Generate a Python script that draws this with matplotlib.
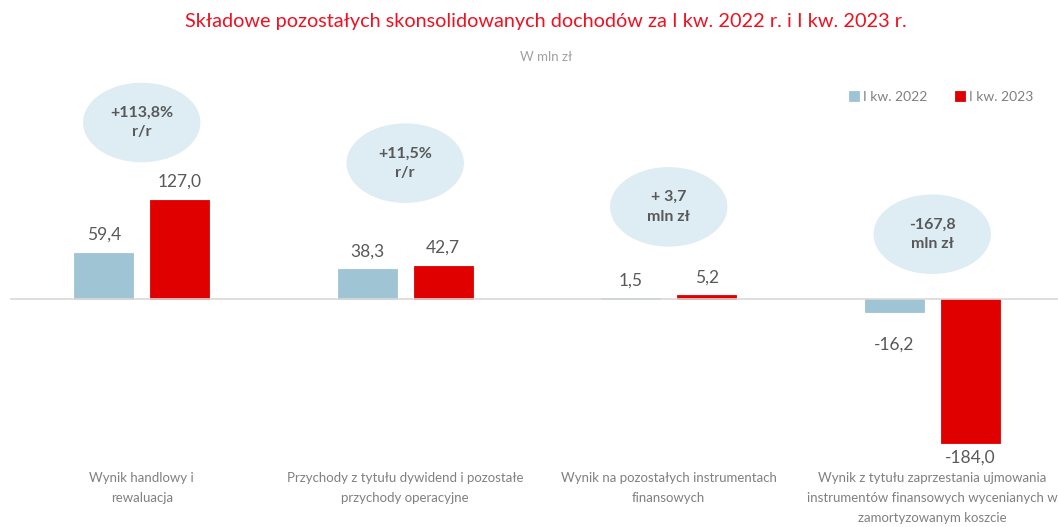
import numpy as np
import matplotlib.pyplot as plt
from matplotlib.patches import Ellipse

plt.rcParams['font.family'] = ['Lato', 'DejaVu Sans']

categories = ['Wynik handlowy i\nrewaluacja',
              'Przychody z tytułu dywidend i pozostałe\nprzychody operacyjne',
              'Wynik na pozostałych instrumentach\nfinansowych',
              'Wynik z tytułu zaprzestania ujmowania\ninstrumentów finansowych wycenianych w\nzamortyzowanym koszcie']
q1_2022 = [59.4, 38.3, 1.5, -16.2]
q1_2023 = [127.0, 42.7, 5.2, -184.0]
series_names = ['I kw. 2022', 'I kw. 2023']
changes = ['+113,8%\nr/r', '+11,5%\nr/r', '+ 3,7\nmln zł', '-167,8\nmln zł']
# bubble heights (data units)
bubble_y = [226, 174, 118, 83]

blue = '#9fc5d5'
red = '#e00000'
grey = '#595959'

fig = plt.figure(figsize=(10.58, 5.27), dpi=100)
W, H = 1058, 527
ax = fig.add_axes([10 / W, (H - 460) / H, 1054 / W, 400 / H])

x = np.arange(len(categories))
bw = 0.224
off = 0.144
b1 = ax.bar(x - off, q1_2022, bw, color=blue, edgecolor=blue, lw=0.6,
            label=series_names[0], zorder=2)
b2 = ax.bar(x + off, q1_2023, bw, color=red, edgecolor=red, lw=0.6,
            label=series_names[1], zorder=2)

for bars, vals in ((b1, q1_2022), (b2, q1_2023)):
    for b, v in zip(bars, vals):
        txt = ('%.1f' % v).replace('.', ',')
        cx = b.get_x() + b.get_width() / 2
        if v >= 0:
            ax.annotate(txt, (cx, v), xytext=(0, 7), textcoords='offset points',
                        ha='center', va='bottom', fontsize=12.5, color=grey)
        else:
            dy = -18 if v > -50 else -5
            ax.annotate(txt, (cx, v), xytext=(0, dy), textcoords='offset points',
                        ha='center', va='top', fontsize=12.5, color=grey)

for i, (c, y) in enumerate(zip(changes, bubble_y)):
    ax.add_patch(Ellipse((i, y), 0.44, 100, color='#ddedf3', zorder=1, clip_on=False))
    ax.text(i, y, c, ha='center', va='center', fontsize=11.5, color=grey,
            fontweight='bold', linespacing=1.5)

ax.axhline(0, color='#d9d9d9', lw=1.2, zorder=3)
ax.set_xlim(-0.5, len(categories) - 0.5)
ax.set_ylim(-206, 306)
ax.set_yticks([])
ax.set_xticks(x)
ax.set_xticklabels(categories, fontsize=9.5, color='#808080', linespacing=1.8)
ax.tick_params(axis='x', length=0, pad=9)
for s in ax.spines.values():
    s.set_visible(False)

ax.legend(loc='center right', bbox_to_anchor=(1046 / W, 1 - 97 / H),
          bbox_transform=fig.transFigure, ncol=2, frameon=False,
          fontsize=10, handlelength=0.7, handleheight=0.7, handletextpad=0.3,
          columnspacing=2.0, labelcolor='#808080')

fig.text(546 / W, 1 - 22 / H, 'Składowe pozostałych skonsolidowanych dochodów za I kw. 2022 r. i I kw. 2023 r.',
         ha='center', va='center', fontsize=14.3, color='#f01020')
fig.text(546 / W, 1 - 57 / H, 'W mln zł', ha='center', va='center', fontsize=9.5, color='#a0a0a0')

fig.savefig('out.png', dpi=100)
